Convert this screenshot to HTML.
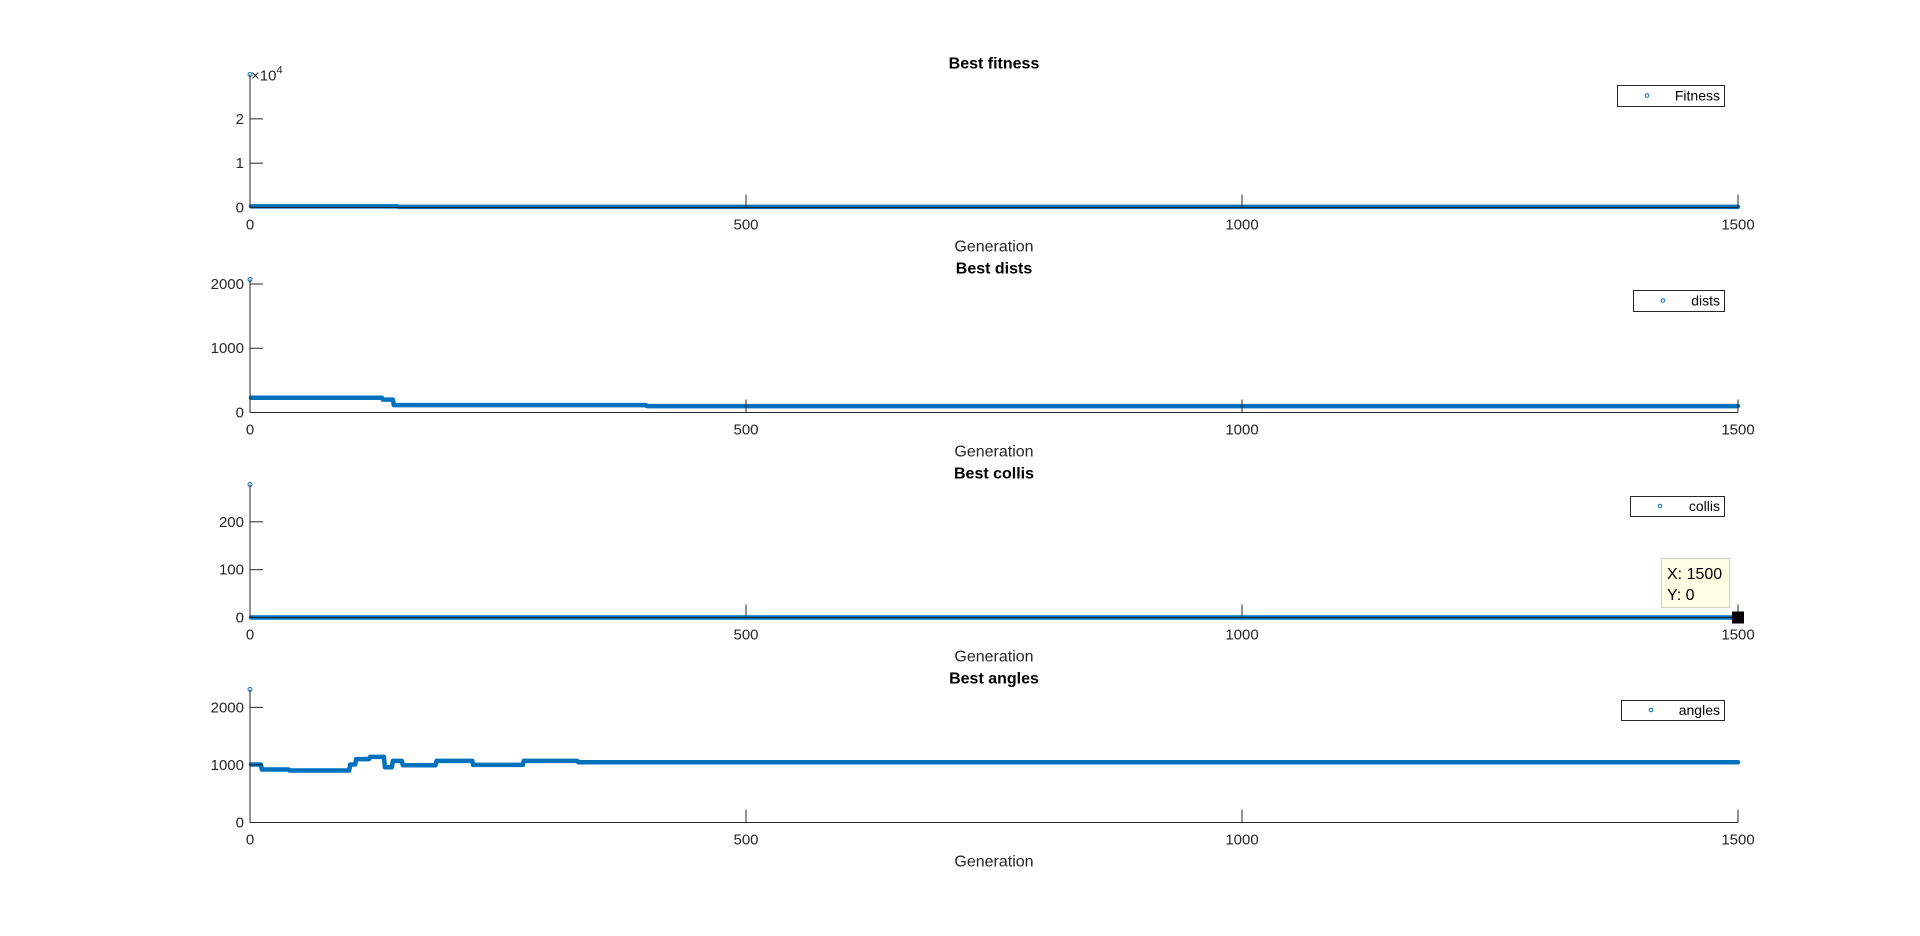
<!DOCTYPE html>
<html><head><meta charset="utf-8">
<style>
html,body{margin:0;padding:0;background:#fff;}
svg{display:block;font-family:"Liberation Sans",Arial,sans-serif;}
</style></head>
<body>
<svg id="fig" width="1920" height="936" viewBox="0 0 1920 936" xmlns="http://www.w3.org/2000/svg"></svg>
<script>
// ---- data (step series: generation where each level starts, and the level value) ----
const xTicks = [0, 500, 1000, 1500];
const fitnessStart = [0, 1, 150];
const fitnessVals  = [30000, 250, 150];
const distsStart = [0, 1, 134, 145, 400];
const distsVals  = [2070, 230, 200, 115, 100];
const collisStart = [0, 1];
const collisVals  = [278, 0];
const anglesStart = [0, 1, 12, 40, 101, 107, 121, 136, 144, 154, 188, 225, 276, 331];
const anglesVals  = [2310, 1008, 920, 903, 1008, 1100, 1140, 960, 1070, 995, 1070, 1000, 1070, 1047];
const fitnessTicks = [0, 10000, 20000];
const fitnessTickLabels = ["0", "1", "2"];
const distsTicks = [0, 1000, 2000];
const collisTicks = [0, 100, 200];
const anglesTicks = [0, 1000, 2000];

const NS = "http://www.w3.org/2000/svg";
const svg = document.getElementById('fig');
function mk(tag, attrs, parent){ const e=document.createElementNS(NS,tag); for(const k in attrs) e.setAttribute(k,attrs[k]); (parent||svg).appendChild(e); return e; }

const X0 = 250, X1 = 1738, XMAX = 1500;
function xs(g){ return X0 + (X1-X0)*g/XMAX; }

function expand(starts, vals){
  const pts=[];
  for(let g=0; g<=XMAX; g++){
    let v=vals[0];
    for(let i=0;i<starts.length;i++){ if(g>=starts[i]) v=vals[i]; }
    pts.push([g,v]);
  }
  return pts;
}

const panels = [
  {key:'fitness', title:'Best fitness', legend:'Fitness', bottom:207.5, ymax:30000, starts:fitnessStart, vals:fitnessVals, ticks:fitnessTicks, labels:fitnessTickLabels, exp:true, leg:[1617,85,1724,106]},
  {key:'dists', title:'Best dists', legend:'dists', bottom:412.5, ymax:2070, starts:distsStart, vals:distsVals, ticks:distsTicks, labels:distsTicks.map(String), leg:[1633,290,1724,311]},
  {key:'collis', title:'Best collis', legend:'collis', bottom:617.5, ymax:278, starts:collisStart, vals:collisVals, ticks:collisTicks, labels:collisTicks.map(String), leg:[1630,496,1724,516], tip:true},
  {key:'angles', title:'Best angles', legend:'angles', bottom:822.5, ymax:2310, starts:anglesStart, vals:anglesVals, ticks:anglesTicks, labels:anglesTicks.map(String), leg:[1621,700,1724,720]}
];
const H = 133;
const BLUE = '#0072BD';

panels.forEach(p=>{
  const g = mk('g',{});
  
  
  const top = p.bottom - H;
  const ys = v => p.bottom - H * v / p.ymax;
  const t = mk('text',{x:(X0+X1)/2, y:top-6, 'text-anchor':'middle','font-size':'16','font-weight':'bold',fill:'#000'},g);
  t.textContent = p.title;
  
  
  const pts = expand(p.starts, p.vals);
  const sg = mk('g',{},g);
  
  
  const rest = pts.slice(1).map(q=>xs(q[0]).toFixed(2)+','+ys(q[1]).toFixed(2)).join(' ');
  const pl = mk('polyline',{points:rest, fill:'none', stroke:BLUE,'stroke-width':4.5,'stroke-linejoin':'round','stroke-linecap':'round'},sg);
  
  
  const c0 = mk('circle',{cx:xs(pts[0][0]), cy:ys(pts[0][1]), r:2, fill:'none', stroke:BLUE,'stroke-width':1},sg);
  
  
  mk('line',{x1:X0,y1:top,x2:X0,y2:p.bottom,stroke:'#262626','stroke-width':1},g);
  mk('line',{x1:X0,y1:p.bottom,x2:X1,y2:p.bottom,stroke:'#262626','stroke-width':1},g);
  p.ticks.forEach((v,i)=>{
    const y = ys(v);
    mk('line',{x1:X0,y1:y,x2:X0+13,y2:y,stroke:'#262626','stroke-width':1},g);
    const tl = mk('text',{x:X0-6,y:y+5,'text-anchor':'end','font-size':'15',fill:'#262626'},g);
    tl.textContent = p.labels[i];
    
    
  });
  if(p.exp){
    const e = mk('text',{x:X0+1,y:top+6,'font-size':'15',fill:'#262626'},g);
    e.innerHTML = '×10<tspan dy="-7" font-size="11">4</tspan>';
    
    
  }
  xTicks.forEach(v=>{
    const x = xs(v);
    mk('line',{x1:x,y1:p.bottom,x2:x,y2:p.bottom-13,stroke:'#262626','stroke-width':1},g);
    const tl = mk('text',{x:x,y:p.bottom+22,'text-anchor':'middle','font-size':'15',fill:'#262626'},g);
    tl.textContent = String(v);
    
    
  });
  const xl = mk('text',{x:(X0+X1)/2,y:p.bottom+44,'text-anchor':'middle','font-size':'16',fill:'#262626'},g);
  xl.textContent = 'Generation';
  
  
  const [lx0,ly0,lx1,ly1] = p.leg;
  const lg = mk('g',{},g);
  
  
  mk('rect',{x:lx0+0.5,y:ly0+0.5,width:lx1-lx0,height:ly1-ly0,fill:'#fff',stroke:'#262626','stroke-width':1},lg);
  mk('circle',{cx:lx0+30,cy:(ly0+ly1)/2,r:1.8,fill:'none',stroke:BLUE,'stroke-width':1},lg);
  const lt = mk('text',{x:lx1-4,y:(ly0+ly1)/2+5,'text-anchor':'end','font-size':'14',fill:'#000'},lg);
  lt.textContent = p.legend;
  
  
  if(p.tip){
    const tg = mk('g',{},g);
    
    
    mk('rect',{x:1661.5,y:558.5,width:68,height:49,fill:'#ffffe6',stroke:'#d0d0c0','stroke-width':1},tg);
    const a = mk('text',{x:1667,y:579,'font-size':'16',fill:'#000'},tg); a.textContent='X: 1500';
    const b = mk('text',{x:1667,y:600,'font-size':'16',fill:'#000'},tg); b.textContent='Y: 0';
    mk('rect',{x:xs(1500)-6,y:ys(0)-6,width:12,height:12,fill:'#000'},tg);
  }
});
</script>
</body></html>
